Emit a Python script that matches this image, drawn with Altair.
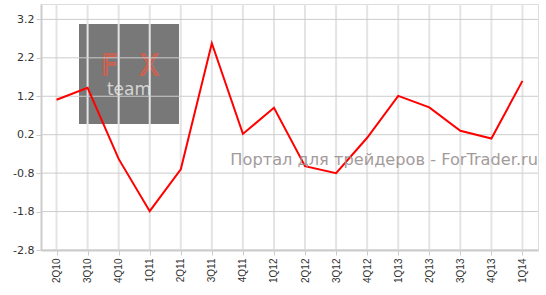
import altair as alt
import pandas as pd

quarters = ["2Q10", "3Q10", "4Q10", "1Q11", "2Q11", "3Q11", "4Q11", "1Q12",
            "2Q12", "3Q12", "4Q12", "1Q13", "2Q13", "3Q13", "4Q13", "1Q14"]
values = [1.11, 1.42, -0.43, -1.79, -0.70, 2.58, 0.22, 0.90,
          -0.62, -0.80, 0.12, 1.21, 0.91, 0.30, 0.10, 1.60]
y_ticks = [-2.8, -1.8, -0.8, 0.2, 1.2, 2.2, 3.2]
watermark = "Портал для трейдеров - ForTrader.ru"

line_df = pd.DataFrame({"q": quarters, "v": values})
vgrid_df = pd.DataFrame({"q": quarters})
hgrid_df = pd.DataFrame({"v": y_ticks})
one = pd.DataFrame({"a": [0]})

x_scale = alt.Scale(type="point", domain=quarters, padding=0.5)
y_scale = alt.Scale(domain=[-2.8, 3.6], nice=False, zero=False)

x_enc = alt.X("q:N", scale=x_scale, sort=quarters, title=None,
              axis=alt.Axis(labelAngle=-90, labelFont="Liberation Sans", labelFontSize=10,
                            labelColor="#333333", domainColor="#cccccc", domainWidth=2,
                            tickColor="#cccccc", tickSize=5, labelPadding=3, grid=False))
y_enc = alt.Y("v:Q", scale=y_scale, title=None,
              axis=alt.Axis(values=y_ticks, labelExpr="toString(datum.value)",
                            labelFont="DejaVu Sans", labelFontSize=11, labelColor="#333333",
                            domainColor="#cccccc", domainWidth=2, tickColor="#cccccc",
                            tickSize=5, labelPadding=2, grid=False))

logo = alt.Chart(one).mark_rect(color="#787878").encode(
    x=alt.value(38), x2=alt.value(138), y=alt.value(20), y2=alt.value(120))
logo_f = alt.Chart(one).mark_text(text="F", font="DejaVu Sans", fontSize=28,
                                  fill="transparent", stroke="#d2604e", strokeWidth=1.6,
                                  baseline="bottom").encode(
    x=alt.value(68), y=alt.value(77))
logo_x = alt.Chart(one).mark_text(text="X", font="DejaVu Sans", fontSize=28,
                                  fill="transparent", stroke="#d2604e", strokeWidth=1.6,
                                  baseline="bottom").encode(
    x=alt.value(108), y=alt.value(77))
logo_t = alt.Chart(one).mark_text(text="team", font="DejaVu Sans", fontSize=17,
                                  color="#d4d4d4", baseline="top").encode(
    x=alt.value(88), y=alt.value(78))

vgrid = alt.Chart(vgrid_df).mark_rule(color="#e4e4e4", strokeWidth=2).encode(x=x_enc)
hgrid = alt.Chart(hgrid_df).mark_rule(color="#cccccc", strokeWidth=1).encode(y=y_enc)

line = alt.Chart(line_df).mark_line(color="#ff0000", strokeWidth=2).encode(x=x_enc, y=y_enc)

wm = alt.Chart(one).mark_text(text=watermark, font="DejaVu Sans", fontSize=16.2,
                              color="#9a9191", opacity=0.9, align="right",
                              baseline="alphabetic").encode(
    x=alt.value(497), y=alt.value(161))

chart = alt.layer(logo, logo_f, logo_x, logo_t, vgrid, hgrid, line, wm).properties(
    width=497, height=246,
    padding={"left": 41, "top": 4, "right": 8, "bottom": 45},
    autosize="none",
).configure_view(stroke=None).configure(background="white")

chart.save("out.html", embed_options={"renderer": "svg", "actions": False})
